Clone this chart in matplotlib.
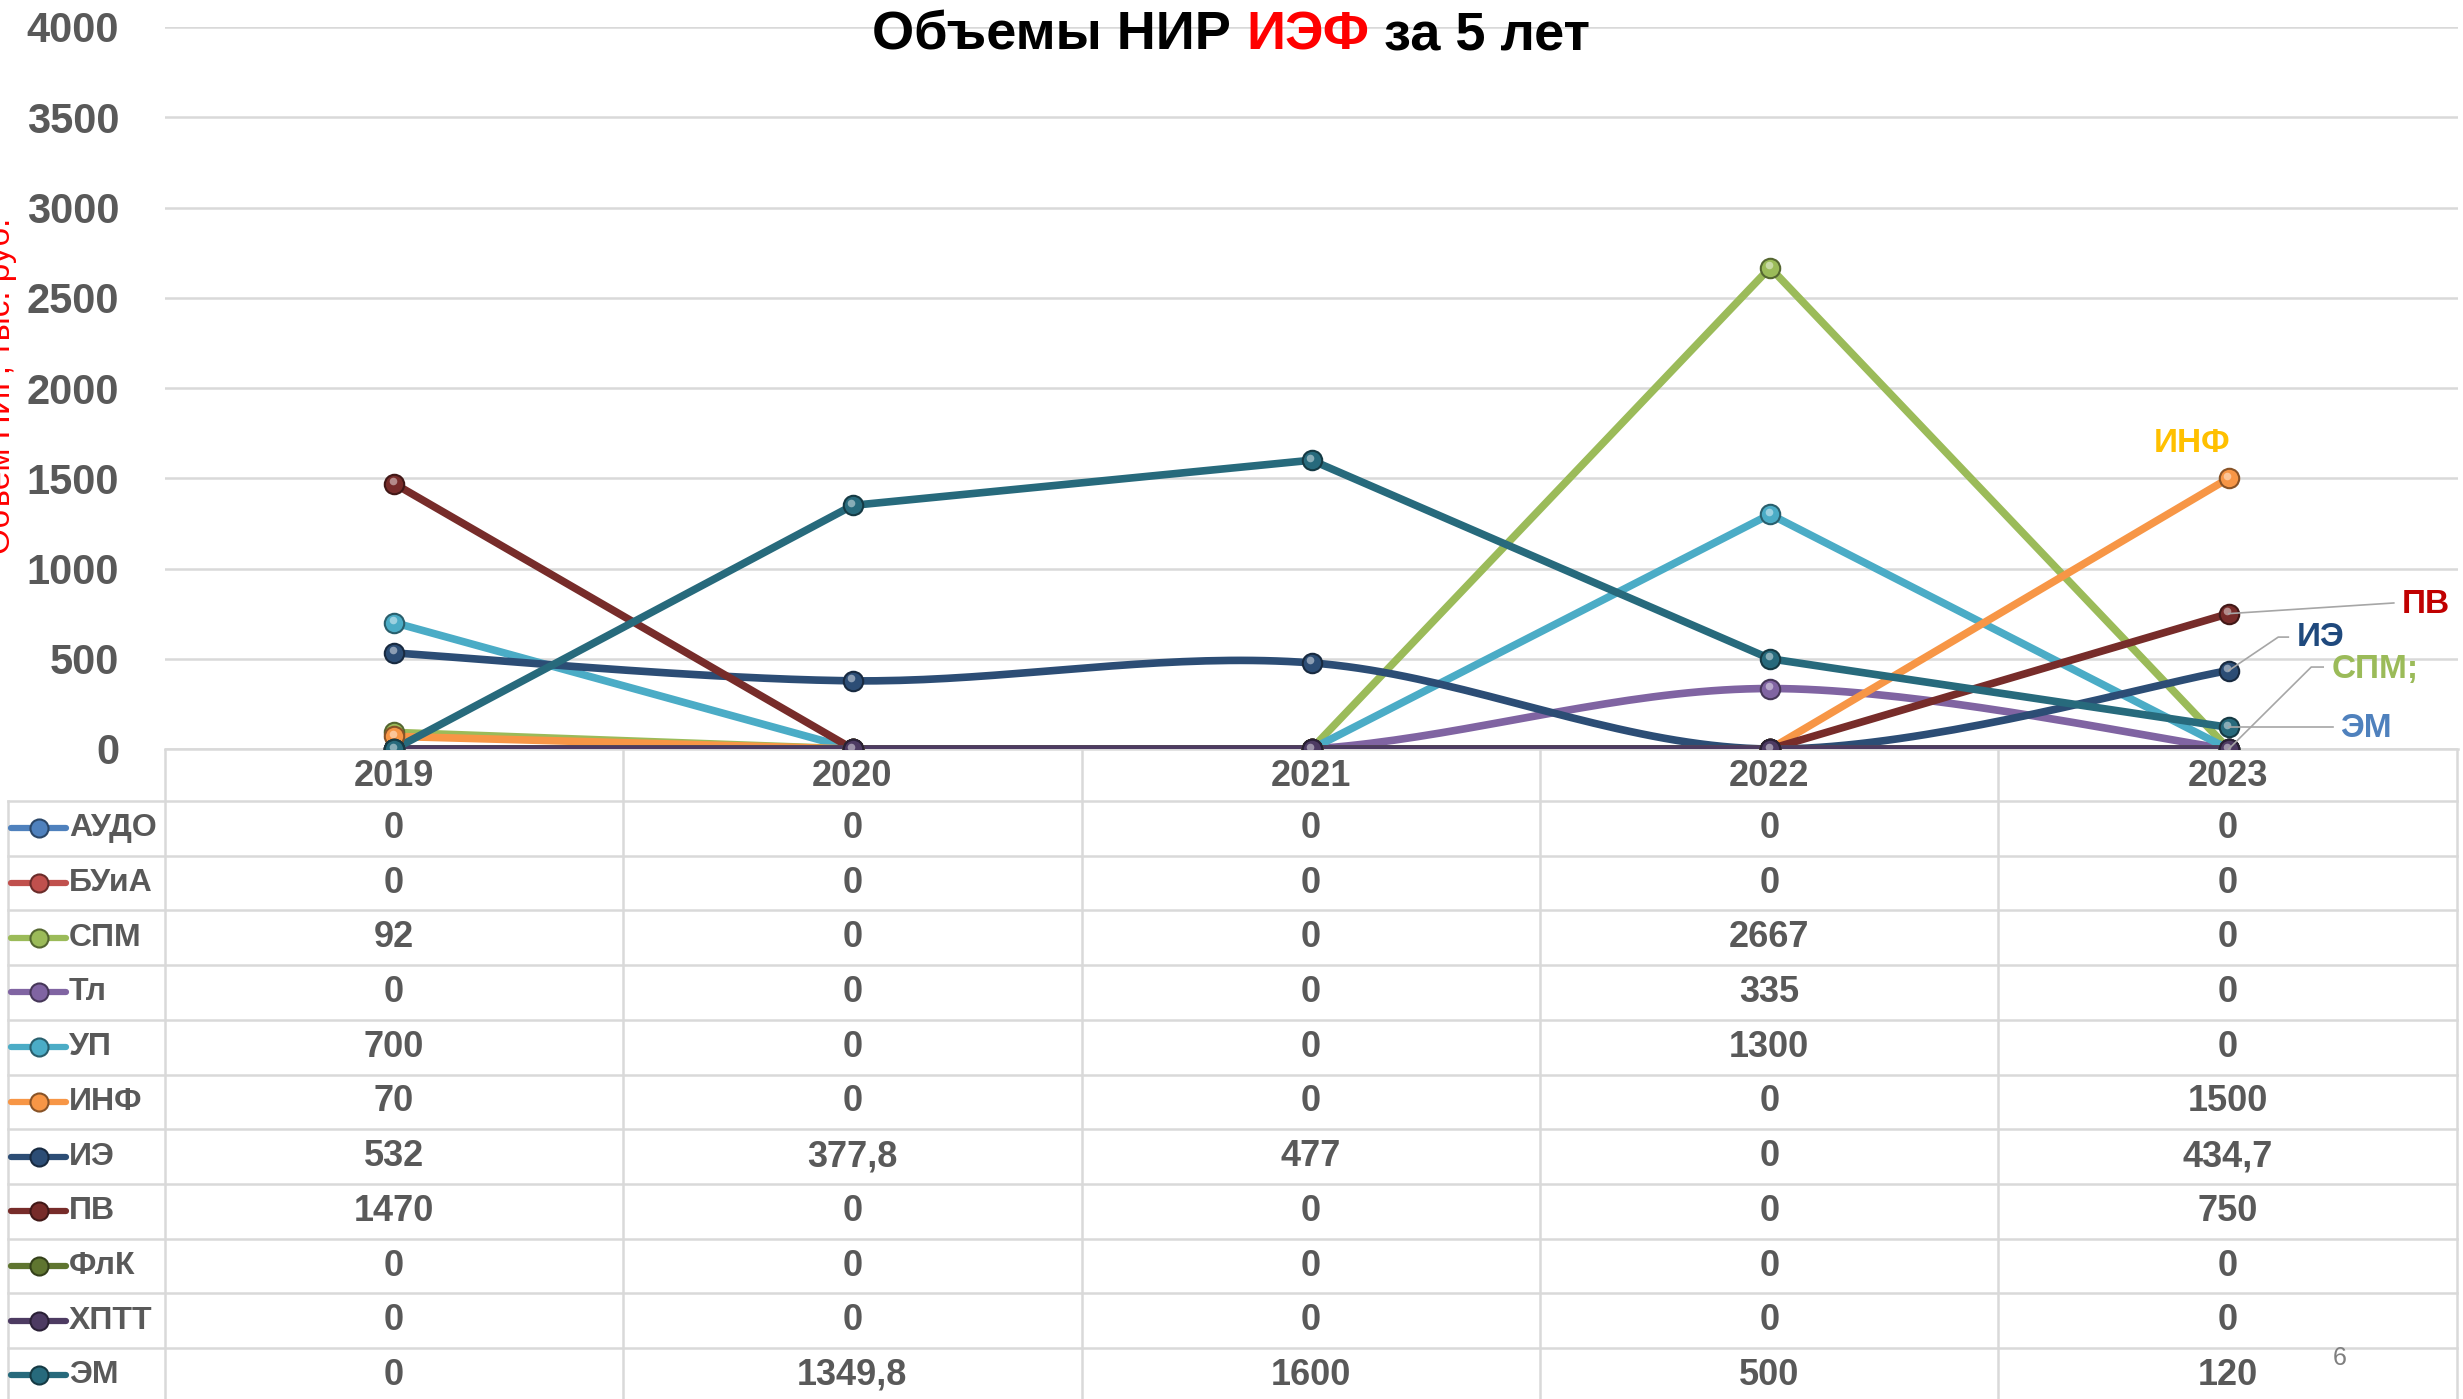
import numpy as np
import matplotlib
matplotlib.use("Agg")
import matplotlib.pyplot as plt
import matplotlib.colors as mcolors
from matplotlib.transforms import offset_copy

# data
years = ["2019", "2020", "2021", "2022", "2023"]
names = ["АУДО", "БУиА", "СПМ", "Тл", "УП", "ИНФ", "ИЭ", "ПВ", "ФлК", "ХПТТ", "ЭМ"]
audo = [0, 0, 0, 0, 0]
buia = [0, 0, 0, 0, 0]
spm = [92, 0, 0, 2667, 0]
tl = [0, 0, 0, 335, 0]
up = [700, 0, 0, 1300, 0]
inf = [70, 0, 0, 0, 1500]
ie = [532, 377.8, 477, 0, 434.7]
pv = [1470, 0, 0, 0, 750]
flk = [0, 0, 0, 0, 0]
hptt = [0, 0, 0, 0, 0]
em = [0, 1349.8, 1600, 500, 120]
series = [audo, buia, spm, tl, up, inf, ie, pv, flk, hptt, em]
colors = ["#4F81BD", "#C0504D", "#9BBB59", "#8064A2", "#4BACC6", "#F79646",
          "#2C4D75", "#772C2A", "#5F7530", "#4D3B62", "#276A7C"]
smooth = ["ИЭ", "Тл"]  # these two series use Excel's smoothed line

GRAY = "#595959"
GRID = "#d9d9d9"
FONT = ["Liberation Sans", "DejaVu Sans"]


def shade(c, f):
    r = np.array(mcolors.to_rgb(c))
    if f < 0:
        return tuple(r * (1 + f))
    return tuple(r + (1 - r) * f)


def excel_smooth(x, y, n=40):
    # bezier with control points at 1/6 of neighbour difference (as Excel does)
    p = np.column_stack([x, y]).astype(float)
    ext = np.vstack([p[0], p, p[-1]])
    out = []
    for i in range(len(p) - 1):
        p0, p1 = ext[i + 1], ext[i + 2]
        c0 = p0 + (ext[i + 2] - ext[i]) / 6
        c1 = p1 - (ext[i + 3] - ext[i + 1]) / 6
        t = np.linspace(0, 1, n)[:, None]
        b = ((1 - t) ** 3) * p0 + 3 * ((1 - t) ** 2) * t * c0 + 3 * (1 - t) * t ** 2 * c1 + t ** 3 * p1
        out.append(b if i == 0 else b[1:])
    b = np.vstack(out)
    return b[:, 0], b[:, 1]


W, H = 2463, 1399
fig = plt.figure(figsize=(W / 100, H / 100), dpi=100)
ax = fig.add_axes([165 / W, 1 - 749 / H, (2458 - 165) / W, (749 - 27) / H])

x = np.arange(len(years))
hl = offset_copy(ax.transData, fig=fig, x=-1.5, y=2.5, units="dots")

for name, vals, c in zip(names, series, colors):
    if name in smooth:
        sx, sy = excel_smooth(x, vals)
    else:
        sx, sy = x, vals
    ax.plot(sx, sy, color=c, lw=5.5, solid_capstyle="round", zorder=3)
    ax.plot(x, vals, ls="none", marker="o", ms=14, mfc=c, mec=shade(c, -0.45),
            mew=1.5, zorder=4)
    ax.plot(x, vals, ls="none", marker="o", ms=5.5, mfc=shade(c, 0.45), mec="none",
            transform=hl, zorder=4)

ax.set_xlim(-0.5, 4.5)
ax.set_ylim(0, 4000)
ax.set_yticks(np.arange(0, 4001, 500))
ax.set_xticks([])
ax.grid(axis="y", color=GRID, lw=1.8)
ax.set_axisbelow(True)
for s in ["left", "right", "top"]:
    ax.spines[s].set_visible(False)
ax.spines["bottom"].set_color(GRID)
ax.spines["bottom"].set_linewidth(1.8)
ax.tick_params(axis="y", length=0, pad=33, labelsize=30, labelcolor=GRAY)
for lab in ax.get_yticklabels():
    lab.set_family(FONT)
    lab.set_fontweight("bold")

# labels at the ends of the lines
lab_kw = dict(fontsize=24, fontweight="bold", family=FONT, ha="center", va="center")
ax.text(3.92, 1695, "ИНФ", color="#FFC000", **lab_kw)
ax.text(4.43, 800, "ПВ", color="#C00000", **lab_kw)
ax.text(4.20, 615, "ИЭ", color="#1F497D", **lab_kw)
ax.text(4.32, 443, "СПМ;", color="#9BBB59", **lab_kw)
ax.text(4.30, 116, "ЭМ", color="#4F81BD", **lab_kw)
lead = dict(color="#a6a6a6", lw=1.2, zorder=5, clip_on=False)
ax.plot([4, 4.36], [pv[4], 809], **lead)
ax.plot([4, 4.108, 4.13], [ie[4], 620, 620], **lead)
ax.plot([4, 4.18, 4.206], [spm[4], 454, 454], **lead)
ax.plot([4, 4.228], [em[4], em[4]], **lead)

# data table under the chart
tax = fig.add_axes([0, 0, 1, 1 - 749 / H])
tax.set_xlim((0 - 394) / 458.4, (W - 394) / 458.4)
tax.set_ylim(10.93, -0.95)
tax.axis("off")
left = (8 - 394) / 458.4
nrow = len(names)
for k in range(nrow + 1):
    tax.plot([left, 4.5], [k, k], color=GRID, lw=1.8, clip_on=False)
for cx in np.arange(-0.5, 4.6, 1):
    tax.plot([cx, cx], [-0.95, 11], color=GRID, lw=1.8)
tax.plot([left, left], [0, 11], color=GRID, lw=1.8)

cell_kw = dict(fontsize=26, fontweight="bold", family=FONT, color=GRAY,
               ha="center", va="center")
for i, yr in enumerate(years):
    tax.text(i, -0.45, yr, **cell_kw)
kx0, kx1, km = (11 - 394) / 458.4, (66 - 394) / 458.4, (39 - 394) / 458.4
for k, (name, vals, c) in enumerate(zip(names, series, colors)):
    yc = k + 0.5
    tax.plot([kx0, kx1], [yc, yc], color=c, lw=4.5, solid_capstyle="round")
    tax.plot([km], [yc], marker="o", ms=13, mfc=c, mec=shade(c, -0.45), mew=1.5)
    tax.text((69 - 394) / 458.4, yc, name, fontsize=23, fontweight="bold",
             family=FONT, color=GRAY, ha="left", va="center")
    for i, v in enumerate(vals):
        tax.text(i, yc, f"{v:g}".replace(".", ","), **cell_kw)

# title with the red part
tkw = dict(fontsize=39, fontweight="bold", family=FONT, va="center", ha="left")
t1 = fig.text(872 / W, 1 - 36 / H, "Объемы НИР ", color="black", **tkw)
t2 = ax.annotate("ИЭФ", xy=(1, 0.5), xycoords=t1, color="red", **tkw)
ax.annotate(" за 5 лет", xy=(1, 0.5), xycoords=t2, color="black", **tkw)

# rotated axis title, cut by the slide edge
fig.text(10 / W, 1 - 386 / H, "Объем НИР, тыс. руб.", rotation=90, rotation_mode="anchor",
         ha="center", va="baseline", fontsize=24, family=FONT, color="red")

fig.text(2340 / W, 1 - 1358 / H, "6", fontsize=18, family=FONT, color="#7f7f7f",
         ha="center", va="center")

fig.savefig("out.png", dpi=100)
